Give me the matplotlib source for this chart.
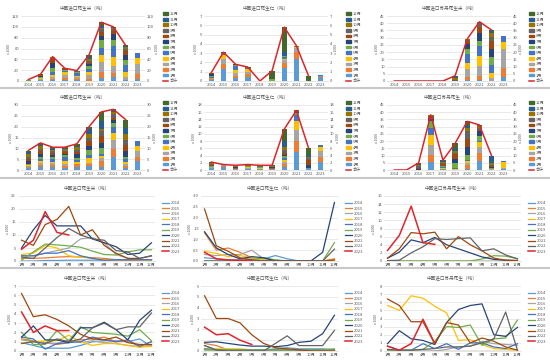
import numpy as np
import matplotlib.pyplot as plt
from matplotlib.lines import Line2D
from matplotlib.patches import Patch

plt.rcParams['font.family'] = ['Noto Sans CJK SC', 'DejaVu Sans']

years = ['2014', '2015', '2016', '2017', '2018', '2019', '2020', '2021', '2022', '2023']
months = ['1月', '2月', '3月', '4月', '5月', '6月', '7月', '8月', '9月', '10月', '11月', '12月']
nan = np.nan

# monthly volumes per year (rows = years 2014..2023)
panel_a = [
    [0, 0, 0.2, 0.2, 0.3, 0.3, 0.3, 0.3, 0.2, 0.2, 0.3, 0.4],
    [1, 1, 1.2, 1.5, 1.7, 1.5, 1.3, 1, 0.5, 0.5, 0.5, 0.5],
    [2, 2, 3, 4, 5, 8.5, 9, 7, 2.5, 1, 0.5, 0.5],
    [2.5, 3, 6, 5, 2, 1.5, 1, 0.5, 0.5, 0.5, 0.5, 0.5],
    [2, 2, 3, 3, 4, 2, 1, 0.3, 0.5, 0.5, 0.5, 0.5],
    [0.3, 3.5, 6.5, 6.2, 5.8, 5.3, 3.8, 2.5, 2.3, 3.5, 4.3, 4.3],
    [5, 12, 17.5, 13.5, 13.5, 13.5, 8.5, 7, 5.5, 2.5, 3, 7],
    [8, 6, 14, 16, 21, 10, 12, 6, 3, 1, 1, 2],
    [1.5, 1, 5, 9, 12.5, 10, 8.5, 8, 4, 3.5, 1, 2],
    [4.5, 8, 19, 11, 10, nan, nan, nan, nan, nan, nan, nan],
]
panel_b = [
    [0.15, 0.1, 0.05, 0.05, 0.1, 0.1, 0.25, 0.1, 0, 0, 0, 0],
    [1.3, 0.5, 0.6, 0.4, 0.15, 0.05, 0, 0, 0, 0, 0, 0.1],
    [0.3, 0.25, 0.3, 0.3, 0.5, 0.1, 0.05, 0, 0, 0, 0, 0],
    [0.45, 0.35, 0.2, 0.25, 0.15, 0.05, 0, 0, 0, 0, 0, 0.05],
    [0, 0, 0, 0, 0, 0, 0, 0, 0, 0, 0, 0],
    [0, 0, 0, 0, 0.05, 0.15, 0.05, 0, 0, 0, 0, 0.85],
    [1.35, 0.6, 0.3, 0.1, 0.2, 0.15, 0, 0, 0, 0, 0.4, 2.7],
    [2.4, 0.7, 0.45, 0.15, 0.05, 0, 0, 0, 0, 0, 0, 0.05],
    [0, 0, 0, 0, 0, 0, 0, 0, 0, 0, 0, 0.55],
    [0.4, 0.1, 0.05, 0.03, 0.02, nan, nan, nan, nan, nan, nan, nan],
]
panel_c = [
    [0] * 12,
    [0] * 12,
    [0] * 12,
    [0] * 12,
    [0] * 12,
    [0, 0, 0, 0, 0, 0, 0, 0, 0.5, 1.3, 1.2, 0.6],
    [0.7, 2.2, 5.2, 4.5, 5.8, 4, 3, 2, 1, 0.4, 0.2, 0.1],
    [0.7, 3, 7, 6.7, 7.1, 3, 6, 4, 2.5, 0.7, 0.2, 0.1],
    [0.1, 0.2, 2, 3.5, 5.5, 5.3, 5.5, 5.7, 2.5, 3, 1.5, 0.5],
    [2.6, 6.3, 13.5, 4.5, 4.1, nan, nan, nan, nan, nan, nan, nan],
]
panel_d = [
    [0.9, 0.6, 0.3, 0.3, 0.3, 0.6, 1, 1.1, 1.1, 1, 1.3, 0.5],
    [1.3, 1.1, 0.9, 0.7, 0.9, 1.2, 1.3, 1.5, 1, 1.1, 0.5, 1],
    [1.2, 1, 0.9, 0.8, 1.2, 0.9, 1.1, 0.9, 0.8, 0.6, 0.5, 0.6],
    [0.9, 1, 1.1, 1.1, 1.7, 1, 0.6, 0.8, 0.8, 0.6, 0.4, 0.5],
    [1.5, 1.3, 0.2, 0.8, 0.9, 1, 1.5, 1.2, 1, 1.2, 0.5, 1],
    [2, 0.7, 0.7, 2.2, 1.1, 2.6, 2, 1.9, 1.8, 1.6, 2.3, 1.1],
    [1.5, 2.7, 1.2, 1.2, 0.9, 2.5, 2.5, 3.1, 2.3, 1.2, 3.3, 4.4],
    [6.2, 3.7, 3.9, 3.4, 2.7, 1.8, 1.3, 1.2, 1.5, 0.9, 0.7, 0.7],
    [0.8, 1, 0.8, 1.3, 1, 1.3, 2.5, 3, 2.3, 2.6, 2.6, 4.1],
    [4.2, 2, 2.7, 2.2, 2.2, nan, nan, nan, nan, nan, nan, nan],
]
panel_e = [
    [0.5, 0.1, 0.1, 0.1, 0.1, 0.1, 0.2, 0.3, 0.2, 0.2, 0.2, 0.1],
    [0.7, 0.5, 0.1, 0.1, 0.05, 0.05, 0, 0, 0, 0, 0, 0],
    [0.1, 0.1, 0.1, 0.1, 0.1, 0.1, 0.1, 0.1, 0.1, 0.1, 0.15, 0.15],
    [0.2, 0.2, 0.2, 0.2, 0.1, 0.1, 0.1, 0.1, 0.1, 0.1, 0.05, 0.05],
    [0.2, 0.1, 0.1, 0.1, 0.1, 0.1, 0.1, 0.1, 0.1, 0.1, 0.1, 0.1],
    [0.1, 0.1, 0.1, 0.1, 0.1, 0.1, 0.1, 0.1, 0.1, 0.1, 0.1, 0.2],
    [0.8, 0.85, 0.7, 0.55, 0.45, 0.45, 0.4, 0.5, 0.8, 0.9, 1.6, 3.3],
    [5.1, 3, 3, 2.6, 1.5, 0.7, 0.3, 0.2, 0.1, 0, 0, 0],
    [0.5, 0.1, 0, 0, 0, 0, 0.7, 1.4, 0.5, 0.5, 0.5, 1.9],
    [2.2, 1.5, 1.6, 1, 0.6, nan, nan, nan, nan, nan, nan, nan],
]
panel_f = [
    [0] * 12,
    [0] * 12,
    [0, 0, 0, 0, 0, 0.2, 0.5, 0.6, 1.2, 0.9, 0.8, 0.7],
    [5.6, 5, 6.8, 6.5, 5.5, 4.7, 1.3, 1.4, 0.8, 0.3, 0.2, 0.1],
    [0.6, 0.1, 0.1, 0.9, 0.3, 0.9, 0.2, 1, 1, 0.5, 0.3, 0.9],
    [0.1, 0.1, 0.1, 0.2, 1.2, 3, 2.9, 3.2, 0.7, 1.5, 1.6, 3.8],
    [0.9, 2.5, 1.5, 1.3, 0.8, 3.5, 5.1, 5.6, 5.8, 2, 1.8, 2.9],
    [6.4, 5.6, 3.6, 3.6, 0.9, 3.5, 3.2, 1, 1.6, 1.2, 0.5, 0.1],
    [0.2, 0.1, 0.1, 0.2, 0.3, 0.5, 0.5, 0.6, 1, 1.5, 4.8, 0.1],
    [0.6, 0.1, 0.9, 3.9, 0.9, nan, nan, nan, nan, nan, nan, nan],
]

titles = ['中国进口花生米（吨）', '中国进口花生仁（吨）', '中国进口苏丹花生米（吨）']
titles2 = ['中国进口花生米（吨）', '中国进口花生仁（吨）', '中国进口苏丹花生（吨）']

month_colors = ['#5B9BD5', '#ED7D31', '#A5A5A5', '#FFC000', '#4472C4', '#70AD47',
                '#264478', '#9E480E', '#636363', '#997300', '#255E91', '#43682B']
year_colors = month_colors[:9] + ['#E0252B']
total_color = '#D9262B'
tick_color = '#595959'
grid_color = '#D9D9D9'
FS = 3.0

W, H = 550, 360
fig = plt.figure(figsize=(5.5, 3.6), dpi=100)


def box(x0, y0, x1, y1):
    return [x0 / W, 1 - y1 / H, (x1 - x0) / W, (y1 - y0) / H]


def style(ax, ymax, step):
    ax.set_ylim(0, ymax)
    ax.set_yticks(np.arange(0, ymax + step / 2, step))
    ax.grid(axis='y', color=grid_color, lw=0.4)
    ax.set_axisbelow(True)
    for s in ['top', 'left', 'right']:
        ax.spines[s].set_visible(False)
    ax.spines['bottom'].set_color(grid_color)
    ax.spines['bottom'].set_linewidth(0.5)
    ax.tick_params(length=0, labelsize=FS, colors=tick_color, pad=1.5)
    ax.set_ylabel('x 1000', fontsize=FS - 0.4, color=tick_color, labelpad=1)


def bar_panel(px, py, title, data, ymax, step):
    ax = fig.add_axes(box(px + 21, py + 16, px + 145, py + 81))
    vals = np.nan_to_num(np.array(data, dtype=float))
    x = np.arange(len(years))
    bottom = np.zeros(len(years))
    for m in range(12):
        ax.bar(x, vals[:, m], 0.45, bottom=bottom, color=month_colors[m], linewidth=0)
        bottom += vals[:, m]
    totals = vals[:9].sum(axis=1)
    ax.plot(x[:9], totals, color=total_color, lw=1.1)
    ax.set_xticks(x)
    ax.set_xticklabels(years)
    ax.set_xlim(-0.6, 9.6)
    style(ax, ymax, step)
    ax2 = ax.twinx()
    ax2.set_ylim(0, ymax)
    ax2.set_yticks(np.arange(0, ymax + step / 2, step))
    for s in ax2.spines.values():
        s.set_visible(False)
    ax2.tick_params(length=0, labelsize=FS, colors=tick_color, pad=1.5)
    ax2.set_ylabel('x 1000', fontsize=FS - 0.4, color=tick_color, labelpad=1)
    ax.set_title(title, fontsize=FS + 0.3, color=tick_color, pad=5)
    handles = [Patch(color=month_colors[m]) for m in range(11, -1, -1)]
    handles.append(Line2D([], [], color=total_color, lw=1.1))
    labels = months[::-1] + ['合计']
    fig.legend(handles, labels, loc='upper left', bbox_to_anchor=((px + 161) / W, 1 - (py + 10) / H),
               frameon=False, fontsize=FS, handlelength=1.2, handleheight=0.6,
               labelspacing=0.38, borderpad=0, handletextpad=0.5, labelcolor=tick_color)


def line_panel(px, py, title, data, ymax, step):
    ax = fig.add_axes(box(px + 18, py + 17, px + 155, py + 82))
    vals = np.array(data, dtype=float)
    x = np.arange(12)
    for i, y in enumerate(years):
        ax.plot(x, vals[i], color=year_colors[i], lw=0.9 if i < 9 else 1.1, label=y)
    ax.set_xticks(x)
    ax.set_xticklabels(months)
    ax.set_xlim(-0.3, 11.3)
    style(ax, ymax, step)
    ax.set_title(title, fontsize=FS + 0.3, color=tick_color, pad=5)
    fig.legend(*ax.get_legend_handles_labels(), loc='upper left',
               bbox_to_anchor=((px + 160) / W, 1 - (py + 20) / H),
               frameon=False, fontsize=FS, handlelength=1.6,
               labelspacing=0.34, borderpad=0, handletextpad=0.5, labelcolor=tick_color)


cols = [0, 183, 366]
rows = [0, 89, 179, 269]

bar_panel(cols[0], rows[0], titles[0], panel_a, 120, 20)
bar_panel(cols[1], rows[0], titles[1], panel_b, 7, 1)
bar_panel(cols[2], rows[0], titles[2], panel_c, 45, 5)
bar_panel(cols[0], rows[1], titles2[0], panel_d, 30, 5)
bar_panel(cols[1], rows[1], titles2[1], panel_e, 18, 2)
bar_panel(cols[2], rows[1], titles2[2], panel_f, 45, 5)

line_panel(cols[0], rows[2], titles[0], panel_a, 25, 5)
line_panel(cols[1], rows[2], titles[1], panel_b, 3, 0.5)
line_panel(cols[2], rows[2], titles[2], panel_c, 16, 2)
line_panel(cols[0], rows[3], titles2[0], panel_d, 7, 1)
line_panel(cols[1], rows[3], titles2[1], panel_e, 6, 1)
line_panel(cols[2], rows[3], titles2[2], panel_f, 8, 1)

# grey separators between chart rows
for yy in rows[1:]:
    fig.add_artist(Line2D([0, 1], [1 - (yy - 1) / H] * 2, color='#C8C8C8', lw=1.5))

fig.savefig('out.png', dpi=100)
